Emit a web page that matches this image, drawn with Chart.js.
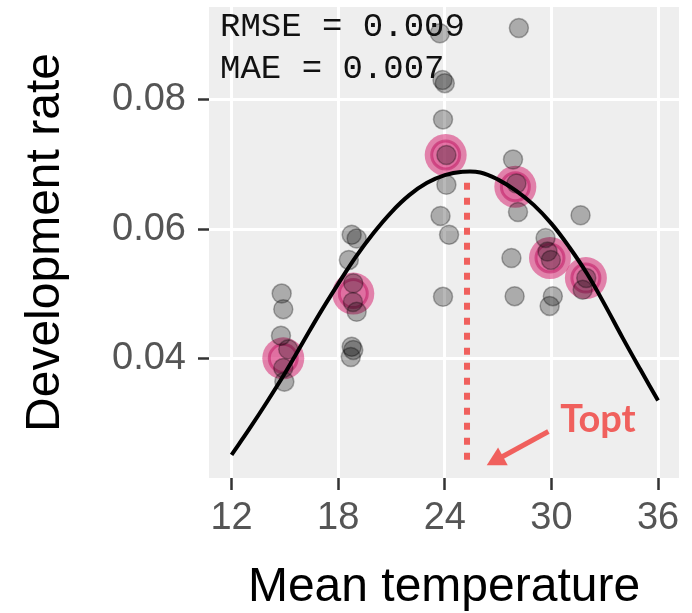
<!DOCTYPE html>
<html>
<head>
<meta charset="utf-8">
<script src="https://cdn.jsdelivr.net/npm/chart.js@4.4.0/dist/chart.umd.min.js"></script>
<style>
  body { margin: 0; background: #fff; }
  #wrap { width: 692px; height: 613px; }
</style>
</head>
<body>
<div id="wrap"><canvas id="devChart" width="692" height="613"></canvas></div>
<script>
// Observed rates (jittered around each rearing temperature)
const obsTemp = [
  14.82, 14.91, 14.78, 15.19, 14.91, 14.97,
  18.76, 19.04, 18.60, 18.85, 18.83, 19.04, 18.76, 18.85, 18.71,
  23.72, 23.87, 24.00, 23.90, 24.09, 24.09, 23.76, 24.24, 23.90,
  28.17, 27.84, 28.03, 28.12, 27.75, 27.93,
  29.78, 29.97, 29.67, 30.08, 29.90,
  31.64, 31.96, 31.76
];
const obsRate = [
  0.0501, 0.0477, 0.0436, 0.0415, 0.0386, 0.0365,
  0.0592, 0.0586, 0.0553, 0.0517, 0.0488, 0.0473, 0.0419, 0.0414, 0.0403,
  0.0903, 0.0831, 0.0826, 0.0770, 0.0715, 0.0669, 0.0621, 0.0592, 0.0496,
  0.0911, 0.0708, 0.0671, 0.0627, 0.0556, 0.0497,
  0.0566, 0.0553, 0.0587, 0.0497, 0.0482,
  0.0622, 0.0525, 0.0507
];

// Mean rate per temperature
const meanTemp = [14.91, 18.85, 24.05, 27.97, 29.92, 31.94];
const meanRate = [0.0401, 0.0501, 0.0715, 0.0666, 0.0556, 0.0525];

// Fitted curve
const curveTemp = [12, 13, 14, 15, 16, 17, 18, 19, 20, 21, 22, 23, 24, 25, 26, 27, 28, 29, 30, 31, 32, 33, 34, 35, 36];
const curveRate = [0.0252, 0.0292, 0.0334, 0.0378, 0.0425, 0.0472, 0.0516, 0.0558, 0.0595, 0.0627, 0.0653, 0.0672,
  0.0684, 0.0689, 0.0688, 0.0677, 0.0660, 0.0638, 0.0609, 0.0573, 0.0532, 0.0484, 0.0433, 0.0384, 0.0336];

// Optimum temperature marker
const toptTemp = 25.25;
const toptRange = [0.0672, 0.0241];

const xTicks = [12, 18, 24, 30, 36];
const yTicks = [0.04, 0.06, 0.08];
const statLabels = ['RMSE = 0.009', 'MAE = 0.007'];

const CORAL = '#f0605d';
const SANS = '"Liberation Sans", Arial, sans-serif';

// where the annotations sit, in data units
const notePos = {
  arrowFrom: [29.83, 0.0288],
  arrowTo: [26.36, 0.0236],
  label: [32.62, 0.0287],
  statX: 11.35,
  statY: [0.0899, 0.0834]
};

const panelBg = {
  id: 'panelBg',
  beforeDraw(chart) {
    const { ctx, chartArea: a } = chart;
    ctx.save();
    ctx.fillStyle = '#eeeeee';
    ctx.fillRect(a.left, a.top, a.width, a.height);
    ctx.restore();
  }
};

const notes = {
  id: 'notes',
  afterDatasetsDraw(chart) {
    const { ctx, scales: { x, y } } = chart;
    ctx.save();

    // Topt arrow
    const x0 = x.getPixelForValue(notePos.arrowFrom[0]), y0 = y.getPixelForValue(notePos.arrowFrom[1]);
    const x1 = x.getPixelForValue(notePos.arrowTo[0]), y1 = y.getPixelForValue(notePos.arrowTo[1]);
    const ang = Math.atan2(y1 - y0, x1 - x0);
    ctx.strokeStyle = CORAL;
    ctx.fillStyle = CORAL;
    ctx.lineWidth = 5;
    ctx.beginPath();
    ctx.moveTo(x0, y0);
    ctx.lineTo(x1 - 14 * Math.cos(ang), y1 - 14 * Math.sin(ang));
    ctx.stroke();
    ctx.beginPath();
    ctx.moveTo(x1, y1);
    ctx.lineTo(x1 - 21 * Math.cos(ang - 0.5), y1 - 21 * Math.sin(ang - 0.5));
    ctx.lineTo(x1 - 21 * Math.cos(ang + 0.5), y1 - 21 * Math.sin(ang + 0.5));
    ctx.closePath();
    ctx.fill();

    ctx.font = 'bold 38px Lato, "Open Sans", sans-serif';
    ctx.textAlign = 'center';
    ctx.textBaseline = 'alphabetic';
    ctx.fillText('Topt', x.getPixelForValue(notePos.label[0]), y.getPixelForValue(notePos.label[1]));

    // fit statistics
    ctx.fillStyle = '#111';
    ctx.font = '34px "Liberation Mono", "DejaVu Sans Mono", monospace';
    ctx.textAlign = 'left';
    statLabels.forEach((t, i) => {
      ctx.fillText(t, x.getPixelForValue(notePos.statX), y.getPixelForValue(notePos.statY[i]));
    });
    ctx.restore();
  }
};

const toPoints = (xs, ys) => xs.map((v, i) => ({ x: v, y: ys[i] }));

new Chart(document.getElementById('devChart').getContext('2d'), {
  type: 'scatter',
  data: {
    datasets: [
      {
        type: 'line',
        data: toPoints(curveTemp, curveRate),
        borderColor: '#000',
        borderWidth: 4,
        pointRadius: 0,
        fill: false,
        tension: 0.4,
        order: 0
      },
      {
        type: 'line',
        data: [{ x: toptTemp, y: toptRange[0] }, { x: toptTemp, y: toptRange[1] }],
        borderColor: CORAL,
        borderWidth: 6,
        borderDash: [7, 8],
        borderCapStyle: 'butt',
        pointRadius: 0,
        fill: false,
        order: 1
      },
      {
        data: toPoints(obsTemp, obsRate),
        pointRadius: 9.5,
        backgroundColor: 'rgba(0,0,0,0.28)',
        borderColor: 'rgba(0,0,0,0.3)',
        borderWidth: 1.5,
        order: 2
      },
      {
        data: toPoints(meanTemp, meanRate),
        pointRadius: 14,
        backgroundColor: 'rgba(225,60,135,0.25)',
        borderColor: 'rgba(190,20,95,0.5)',
        borderWidth: 3,
        order: 3
      },
      {
        data: toPoints(meanTemp, meanRate),
        pointRadius: 21,
        backgroundColor: 'rgba(215,40,115,0.55)',
        borderWidth: 0,
        order: 4
      }
    ]
  },
  options: {
    responsive: false,
    animation: false,
    events: [],
    layout: { autoPadding: false, padding: { top: 7, right: 13, left: 0, bottom: 0 } },
    plugins: {
      legend: { display: false },
      tooltip: { enabled: false }
    },
    scales: {
      x: {
        type: 'linear',
        min: 10.73,
        max: 37.18,
        afterBuildTicks: s => { s.ticks = xTicks.map(v => ({ value: v })); },
        afterFit: s => { s.height = 135; s.paddingLeft = 0; s.paddingRight = 0; },
        border: { display: false },
        grid: { color: '#ffffff', lineWidth: 3, tickColor: '#333', tickWidth: 2.5, tickLength: 12 },
        ticks: {
          color: '#555',
          font: { family: SANS, size: 38 },
          padding: 6,
          maxRotation: 0,
          callback: v => String(v)
        },
        title: {
          display: true,
          text: 'Mean temperature',
          color: '#000',
          font: { family: SANS, size: 48, lineHeight: 1 },
          padding: { top: 0, bottom: 1 }
        }
      },
      y: {
        type: 'linear',
        min: 0.02162,
        max: 0.09436,
        afterBuildTicks: s => { s.ticks = yTicks.map(v => ({ value: v })); },
        afterFit: s => { s.width = 209; s.paddingTop = 0; s.paddingBottom = 0; },
        border: { display: false },
        grid: { color: '#ffffff', lineWidth: 3, tickColor: '#333', tickWidth: 2.5, tickLength: 11 },
        ticks: {
          color: '#555',
          font: { family: SANS, size: 38 },
          padding: 12,
          callback: v => v.toFixed(2)
        },
        title: {
          display: true,
          text: 'Development rate',
          color: '#000',
          font: { family: SANS, size: 48, lineHeight: 1 },
          padding: { top: 22, bottom: 0 }
        }
      }
    }
  },
  plugins: [panelBg, notes]
});
</script>
</body>
</html>
